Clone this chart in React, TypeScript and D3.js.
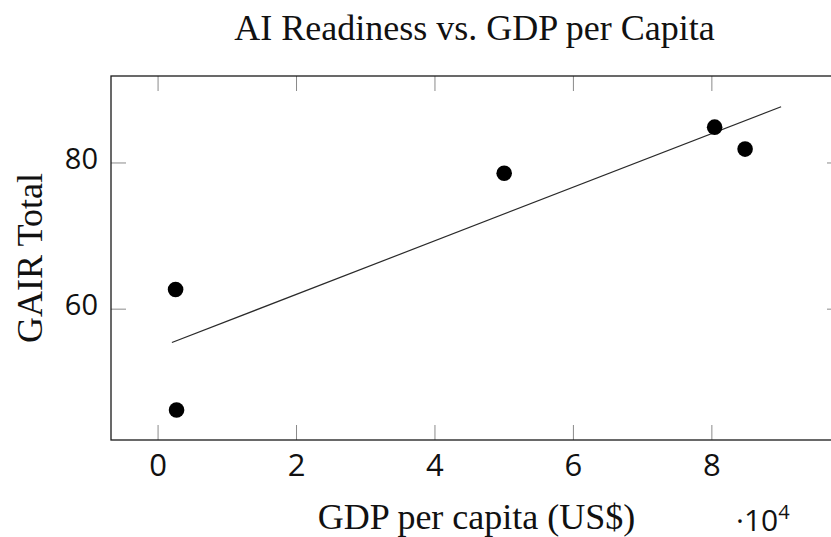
import React from "react";
import * as d3 from "d3";

// GDP per capita (US$) and GAIR total score
const gdpPerCapita = [2530, 2670, 50000, 80400, 84800];
const gairTotal = [62.7, 46.2, 78.6, 84.9, 81.9];

// axis limits and ticks
const xLimits = [-6800, 98800];
const yLimits = [42.1, 91.9];
const xTicks = [0, 20000, 40000, 60000, 80000];
const yTicks = [60, 80];
const trendRange = [2000, 90000];

const width = 831;
const height = 537;
const box = { left: 111, right: 842, top: 76, bottom: 440 };
const tickLen = 15;

const serif = "'Liberation Serif', 'Times New Roman', serif";
const sans = "'Open Sans', 'Noto Sans', sans-serif";

// simple least squares fit for the trend line
function fitLine(xs: number[], ys: number[]) {
  const mx = d3.mean(xs) as number;
  const my = d3.mean(ys) as number;
  let sxy = 0;
  let sxx = 0;
  xs.forEach((x, i) => {
    sxy += (x - mx) * (ys[i] - my);
    sxx += (x - mx) * (x - mx);
  });
  const slope = sxy / sxx;
  return (x: number) => my + slope * (x - mx);
}

export default function App() {
  const x = d3.scaleLinear().domain(xLimits).range([box.left, box.right]);
  const y = d3.scaleLinear().domain(yLimits).range([box.bottom, box.top]);

  const fit = fitLine(gdpPerCapita, gairTotal);
  const line = d3
    .line<number>()
    .x((d) => x(d))
    .y((d) => y(fit(d)));

  const points = gdpPerCapita.map((g, i) => ({ g, v: gairTotal[i] }));
  const cx = (box.left + box.right) / 2;

  return (
    <div style={{ position: "fixed", left: 0, top: 0, width, height, overflow: "hidden", background: "#fff" }}>
      <svg width={width} height={height} style={{ display: "block" }}>
        <rect width={width} height={height} fill="#fff" />

        <text x={cx - 2} y={40} textAnchor="middle" fontFamily={serif} fontSize={36} fill="#111">
          AI Readiness vs. GDP per Capita
        </text>

        {/* ticks, inside on all four sides */}
        <g stroke="#8a8a8a" strokeWidth={1}>
          {xTicks.map((t) => (
            <g key={"xt" + t}>
              <line x1={x(t)} x2={x(t)} y1={box.bottom} y2={box.bottom - tickLen} />
              <line x1={x(t)} x2={x(t)} y1={box.top} y2={box.top + tickLen} />
            </g>
          ))}
          {yTicks.map((t) => (
            <g key={"yt" + t}>
              <line x1={box.left} x2={box.left + tickLen} y1={y(t)} y2={y(t)} />
              <line x1={box.right} x2={box.right - tickLen} y1={y(t)} y2={y(t)} />
            </g>
          ))}
        </g>

        <rect
          x={box.left}
          y={box.top}
          width={box.right - box.left}
          height={box.bottom - box.top}
          fill="none"
          stroke="#1a1a1a"
          strokeWidth={1.3}
        />

        <path d={line(trendRange) || ""} fill="none" stroke="#2a2a2a" strokeWidth={1.2} />

        {points.map((p, i) => (
          <circle key={i} cx={x(p.g)} cy={y(p.v)} r={7.8} fill="#000" />
        ))}

        {/* tick labels */}
        {xTicks.map((t) => (
          <text key={"xl" + t} x={x(t)} y={476} textAnchor="middle" fontFamily={sans} fontSize={31} fill="#111">
            {d3.format("d")(t / 1e4)}
          </text>
        ))}
        {yTicks.map((t) => (
          <text key={"yl" + t} x={box.left - 13} y={y(t) + 6} textAnchor="end" fontFamily={sans} fontSize={29} fill="#111">
            {t}
          </text>
        ))}

        <text x={cx} y={529} textAnchor="middle" fontFamily={serif} fontSize={36} fill="#111">
          GDP per capita (US$)
        </text>
        <text x={736} y={531} fontFamily={sans} fontSize={30} fill="#111">
          ·10
          <tspan fontSize={20} dy={-12}>
            4
          </tspan>
        </text>

        <text
          transform={`translate(42,${(box.top + box.bottom) / 2}) rotate(-90)`}
          textAnchor="middle"
          fontFamily={serif}
          fontSize={36}
          fill="#111"
        >
          GAIR Total
        </text>
      </svg>
    </div>
  );
}
